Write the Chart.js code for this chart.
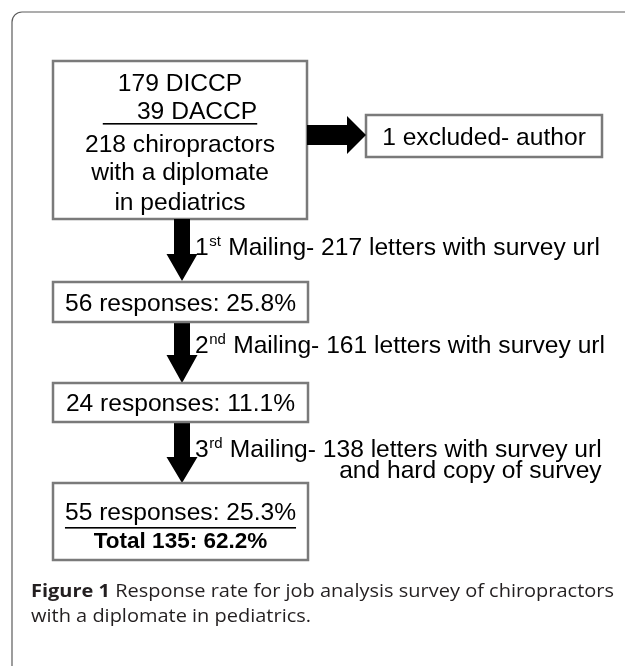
<!DOCTYPE html>
<html><head><meta charset="utf-8">
<script src="https://cdn.jsdelivr.net/npm/chart.js@4"></script>
<style>html,body{margin:0;padding:0;background:#fff;}canvas{display:block;}</style>
</head><body>
<canvas id="c" width="625" height="666"></canvas>
<script>
// ---- data ----
const diplomateCodes = ['DICCP', 'DACCP'];
const diplomateCounts = [179, 39];
const totalChiropractors = 218;
const excludedCount = 1;
const excludedReason = 'author';
const mailingNumbers = ['1', '2', '3'];
const mailingSuffixes = ['st', 'nd', 'rd'];
const lettersSent = [217, 161, 138];
const mailingExtras = ['', '', 'and hard copy of survey'];
const responseCounts = [56, 24, 55];
const responseRates = [25.8, 11.1, 25.3];
const totalResponses = 135;
const totalRate = 62.2;
const captionBold = 'Figure 1';
const captionLines = ['Response rate for job analysis survey of chiropractors', 'with a diplomate in pediatrics'];

// ---- layout (scale units) ----
const L = {
  frame: {x: 12, y: 12, r: 10},
  main: {x0: 53, x1: 307, y0: 61, y1: 219, lines: [82, 110, 143, 171, 201], underlineY: 123},
  excl: {x0: 366, x1: 602, y0: 115, y1: 157},
  right: {x0: 307, x1: 366, cy: 135, shaft: 20, head: 38, headLen: 19},
  arrowCx: 182, shaftW: 16, headW: 31,
  boxX0: 53, boxX1: 308,
  boxes: [{y0: 282, y1: 322}, {y0: 383, y1: 422}, {y0: 483, y1: 560}],
  arrows: [{y0: 219, y1: 281, headLen: 27}, {y0: 322, y1: 383, headLen: 28}, {y0: 422, y1: 483, headLen: 26}],
  labels: [{x: 195, y: 246}, {x: 195, y: 344}, {x: 195, y: 448}],
  extraY: 469,
  lastLines: [511, 540], lastUnderline: 527,
  caption: {x: 31, right: 614, y: [590, 615]}
};
const FS = 24.6;
const FS_TOTAL = 22.5;
const FONT = "'Liberation Sans', Arial, sans-serif";
const CAPFONT = "'Open Sans', 'Noto Sans', sans-serif";

const flowPlugin = {
  id: 'flow',
  afterDraw(chart) {
    const ctx = chart.ctx, xs = chart.scales.x, ys = chart.scales.y;
    const X = v => xs.getPixelForValue(v), Y = v => ys.getPixelForValue(v);
    ctx.save();
    // frame
    ctx.strokeStyle = '#5c5c5c'; ctx.lineWidth = 1.2;
    ctx.beginPath();
    ctx.moveTo(X(L.frame.x), Y(666));
    ctx.lineTo(X(L.frame.x), Y(L.frame.y + L.frame.r));
    ctx.arcTo(X(L.frame.x), Y(L.frame.y), X(L.frame.x + L.frame.r), Y(L.frame.y), L.frame.r);
    ctx.lineTo(X(625), Y(L.frame.y));
    ctx.stroke();

    const box = (x0, y0, x1, y1) => {
      ctx.strokeStyle = '#7a7a7a'; ctx.lineWidth = 2.5;
      ctx.strokeRect(X(x0), Y(y0), X(x1) - X(x0), Y(y1) - Y(y0));
    };
    const text = (s, cx, cy, opts = {}) => {
      const fs = opts.fs || FS;
      ctx.font = (opts.bold ? 'bold ' : '') + fs + 'px ' + FONT;
      ctx.fillStyle = '#000';
      ctx.textBaseline = 'alphabetic';
      ctx.textAlign = opts.align || 'center';
      ctx.fillText(s, X(cx), Y(cy) + 0.36 * fs);
      const w = ctx.measureText(s).width;
      if (opts.underlineY) {
        let a = opts.align === 'left' ? X(cx) : X(cx) - w / 2;
        ctx.fillRect(a, Y(opts.underlineY), w, 1.6);
      }
      return w;
    };

    // main box
    const m = L.main;
    box(m.x0, m.y0, m.x1, m.y1);
    const mcx = (m.x0 + m.x1) / 2;
    text(diplomateCounts[0] + ' ' + diplomateCodes[0], mcx, m.lines[0]);
    text('\u00a0\u00a0\u00a0\u00a0\u00a0' + diplomateCounts[1] + ' ' + diplomateCodes[1], mcx, m.lines[1], {underlineY: m.underlineY});
    text(totalChiropractors + ' chiropractors', mcx, m.lines[2]);
    text('with a diplomate', mcx, m.lines[3]);
    text('in pediatrics', mcx, m.lines[4]);

    // excluded
    const e = L.excl;
    box(e.x0, e.y0, e.x1, e.y1);
    text(excludedCount + ' excluded- ' + excludedReason, (e.x0 + e.x1) / 2, (e.y0 + e.y1) / 2);

    // right arrow
    const r = L.right;
    ctx.fillStyle = '#000';
    ctx.beginPath();
    ctx.moveTo(X(r.x0), Y(r.cy - r.shaft / 2));
    ctx.lineTo(X(r.x1 - r.headLen), Y(r.cy - r.shaft / 2));
    ctx.lineTo(X(r.x1 - r.headLen), Y(r.cy - r.head / 2));
    ctx.lineTo(X(r.x1), Y(r.cy));
    ctx.lineTo(X(r.x1 - r.headLen), Y(r.cy + r.head / 2));
    ctx.lineTo(X(r.x1 - r.headLen), Y(r.cy + r.shaft / 2));
    ctx.lineTo(X(r.x0), Y(r.cy + r.shaft / 2));
    ctx.closePath(); ctx.fill();

    // down arrows
    const cx = L.arrowCx;
    L.arrows.forEach(a => {
      ctx.fillStyle = '#000';
      ctx.beginPath();
      ctx.moveTo(X(cx - L.shaftW / 2), Y(a.y0));
      ctx.lineTo(X(cx + L.shaftW / 2), Y(a.y0));
      ctx.lineTo(X(cx + L.shaftW / 2), Y(a.y1 - a.headLen));
      ctx.lineTo(X(cx + L.headW / 2), Y(a.y1 - a.headLen));
      ctx.lineTo(X(cx), Y(a.y1));
      ctx.lineTo(X(cx - L.headW / 2), Y(a.y1 - a.headLen));
      ctx.lineTo(X(cx - L.shaftW / 2), Y(a.y1 - a.headLen));
      ctx.closePath(); ctx.fill();
    });

    // response boxes
    const bcx = (L.boxX0 + L.boxX1) / 2;
    L.boxes.forEach((b, i) => {
      box(L.boxX0, b.y0, L.boxX1, b.y1);
      const s = responseCounts[i] + ' responses: ' + responseRates[i].toFixed(1) + '%';
      if (i < 2) {
        text(s, bcx, (b.y0 + b.y1) / 2);
      } else {
        text(s, bcx, L.lastLines[0], {underlineY: L.lastUnderline});
        text('Total ' + totalResponses + ': ' + totalRate.toFixed(1) + '%', bcx, L.lastLines[1], {bold: true, fs: FS_TOTAL});
      }
    });

    // mailing labels
    L.labels.forEach((p, i) => {
      let x = p.x;
      let w = text(mailingNumbers[i], x, p.y, {align: 'left'});
      x += w;
      ctx.font = Math.round(FS * 0.6) + 'px ' + FONT;
      ctx.textAlign = 'left';
      ctx.fillText(mailingSuffixes[i], X(x + 0.5), Y(p.y));
      x += ctx.measureText(mailingSuffixes[i]).width + 1;
      w = text(' Mailing- ' + lettersSent[i] + ' letters with survey url', x, p.y, {align: 'left'});
      const line1End = x + w;
      if (mailingExtras[i]) {
        text(mailingExtras[i], line1End, L.extraY, {align: 'right'});
      }
    });

    // caption (humanist font, slightly condensed)
    const c = L.caption;
    const cfs = 18.5;
    ctx.fillStyle = '#231f20';
    ctx.textAlign = 'left'; ctx.textBaseline = 'alphabetic';
    ctx.font = 'bold ' + cfs + 'px ' + CAPFONT;
    const wb = ctx.measureText(captionBold + ' ').width;
    ctx.font = cfs + 'px ' + CAPFONT;
    const w1 = ctx.measureText(captionLines[0]).width;
    const sx = (X(c.right) - X(c.x)) / (wb + w1);
    ctx.save();
    ctx.translate(X(c.x), 0);
    ctx.scale(sx, 1);
    ctx.font = 'bold ' + cfs + 'px ' + CAPFONT;
    ctx.fillText(captionBold + ' ', 0, Y(c.y[0]) + 0.36 * cfs);
    ctx.font = cfs + 'px ' + CAPFONT;
    ctx.fillText(captionLines[0], wb, Y(c.y[0]) + 0.36 * cfs);
    const w2 = ctx.measureText(captionLines[1]).width;
    ctx.fillText(captionLines[1], 0, Y(c.y[1]) + 0.36 * cfs);
    ctx.fillText('.', w2, Y(c.y[1]) + 0.36 * cfs);
    ctx.restore();
    ctx.restore();
  }
};

new Chart(document.getElementById('c'), {
  type: 'scatter',
  data: {datasets: [{data: [], showLine: false}]},
  options: {
    responsive: false,
    animation: false,
    events: [],
    layout: {padding: 0},
    scales: {
      x: {type: 'linear', min: 0, max: 625, display: false},
      y: {type: 'linear', min: 0, max: 666, reverse: true, display: false}
    },
    plugins: {legend: {display: false}, tooltip: {enabled: false}, title: {display: false}}
  },
  plugins: [flowPlugin]
});
</script>
</body></html>
